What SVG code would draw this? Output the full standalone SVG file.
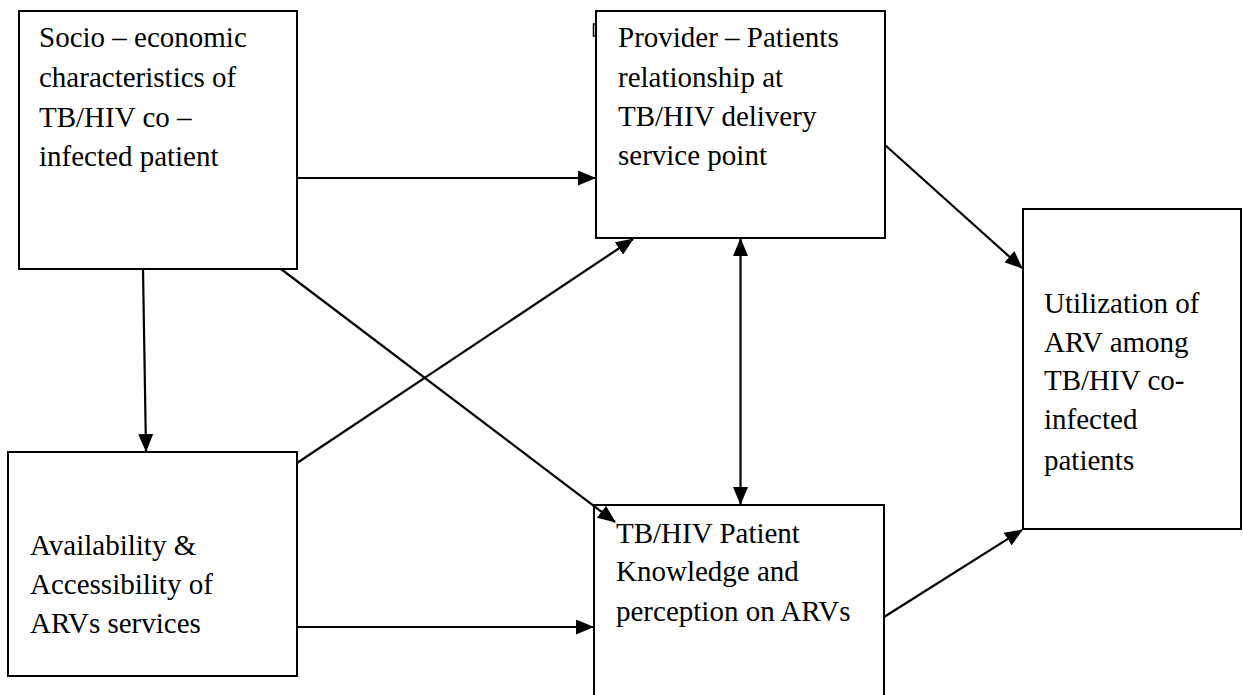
<svg xmlns="http://www.w3.org/2000/svg" width="1243" height="695" viewBox="0 0 1243 695">
<defs>
<marker id="ah" markerUnits="userSpaceOnUse" markerWidth="18" markerHeight="15" refX="17" refY="7.5" orient="auto-start-reverse">
<path d="M0,0 L18,7.5 L0,15 Z" fill="#000"/>
</marker>
<style>
.box{fill:#fff;stroke:#000;stroke-width:2}
.t{font-family:"Liberation Serif","Times New Roman",serif;font-size:29px;fill:#000}
.c{stroke:#000;stroke-width:2.2;fill:none;marker-end:url(#ah)}
</style>
</defs>
<rect width="1243" height="695" fill="#fff"/>
<g id="n1">
<rect class="box" x="19" y="11" width="278" height="258"/>
<text class="t" x="39" y="47">Socio – economic</text>
<text class="t" x="39" y="87">characteristics of</text>
<text class="t" x="39" y="127">TB/HIV co –</text>
<text class="t" x="39" y="166">infected patient</text>
</g>
<g id="n2">
<rect x="593.5" y="24" width="3" height="12" fill="#fff" stroke="#000" stroke-width="1.5"/>
<rect class="box" x="596" y="11" width="289" height="227"/>
<text class="t" x="618" y="47">Provider – Patients</text>
<text class="t" x="618" y="87">relationship at</text>
<text class="t" x="618" y="126">TB/HIV delivery</text>
<text class="t" x="618" y="165">service point</text>
</g>
<g id="n3">
<rect class="box" x="8" y="452" width="289" height="224"/>
<text class="t" x="30" y="555">Availability &amp;</text>
<text class="t" x="30" y="594">Accessibility of</text>
<text class="t" x="30" y="633">ARVs services</text>
</g>
<g id="n4">
<rect class="box" x="594" y="505" width="290" height="200"/>
<text class="t" x="616" y="543">TB/HIV Patient</text>
<text class="t" x="616" y="581">Knowledge and</text>
<text class="t" x="616" y="621">perception on ARVs</text>
</g>
<g id="n5">
<rect class="box" x="1023" y="209" width="218" height="320"/>
<text class="t" x="1044" y="313">Utilization of</text>
<text class="t" x="1044" y="352">ARV among</text>
<text class="t" x="1044" y="390">TB/HIV co-</text>
<text class="t" x="1044" y="429">infected</text>
<text class="t" x="1044" y="470">patients</text>
</g>
<g id="connectors">
<line class="c" x1="297" y1="178" x2="595" y2="178"/>
<line class="c" x1="143" y1="269" x2="146" y2="451"/>
<line class="c" x1="281" y1="269" x2="615" y2="522"/>
<line class="c" x1="297" y1="463" x2="633" y2="239"/>
<line class="c" x1="297" y1="627" x2="593" y2="627"/>
<line class="c" x1="740.5" y1="372" x2="740.5" y2="239"/>
<line class="c" x1="740.5" y1="372" x2="740.5" y2="504"/>
<line class="c" x1="885" y1="145" x2="1022" y2="268"/>
<line class="c" x1="884" y1="617" x2="1022" y2="530"/>
</g>
</svg>
